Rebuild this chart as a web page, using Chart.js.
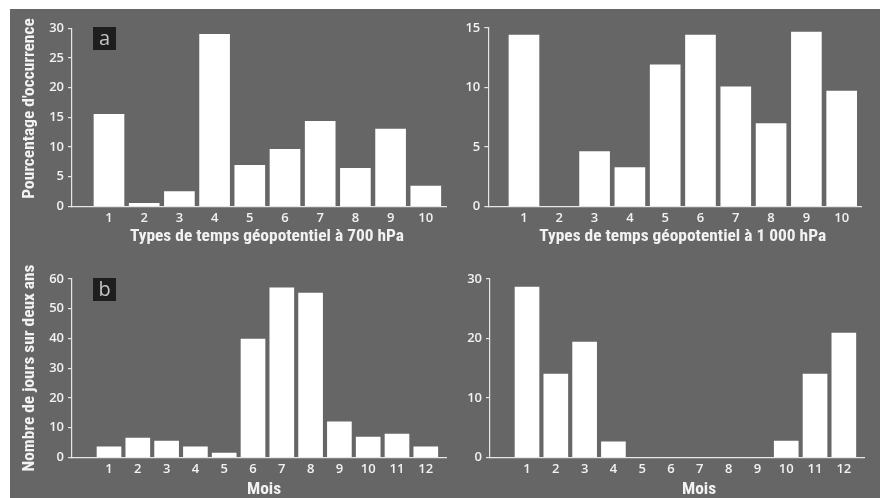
<!DOCTYPE html>
<html><head><meta charset="utf-8">
<script src="https://cdn.jsdelivr.net/npm/chart.js@4"></script>
<style>
html,body{margin:0;padding:0;background:#fff;width:880px;height:498px;overflow:hidden}
#bg{position:absolute;left:10px;top:9px;width:870px;height:489px;background:#666}
canvas{position:absolute;left:0;top:0}
</style></head><body>
<div id="bg"></div>
<canvas id="c1" width="880" height="498"></canvas>
<canvas id="c2" width="880" height="498"></canvas>
<canvas id="c3" width="880" height="498"></canvas>
<canvas id="c4" width="880" height="498"></canvas>
<script>
// ---- data ----
const types = [1, 2, 3, 4, 5, 6, 7, 8, 9, 10];
const pct700 = [15.5, 0.5, 2.5, 29.0, 6.9, 9.6, 14.3, 6.4, 13.0, 3.4];
const pct1000 = [14.4, 0, 4.6, 3.25, 11.9, 14.4, 10.05, 6.95, 14.65, 9.7];
const months = [1, 2, 3, 4, 5, 6, 7, 8, 9, 10, 11, 12];
const days700 = [3.5, 6.5, 5.5, 3.5, 1.45, 39.8, 57.0, 55.3, 11.9, 6.8, 7.85, 3.5];
const days1000 = [28.65, 14.0, 19.4, 2.6, 0, 0, 0, 0, 0, 2.75, 14.0, 20.9];
const yTicksPct700 = [0, 5, 10, 15, 20, 25, 30];
const yTicksPct1000 = [0, 5, 10, 15];
const yTicksDays700 = [0, 10, 20, 30, 40, 50, 60];
const yTicksDays1000 = [0, 10, 20, 30];
const yTitleTop = "Pourcentage d'occurrence";
const yTitleBottom = "Nombre de jours sur deux ans";
const xTitle700 = "Types de temps géopotentiel à 700 hPa";
const xTitle1000 = "Types de temps géopotentiel à 1 000 hPa";
const xTitleMonth = "Mois";

const WHITE = '#f2f2f2';
const AXIS = '#e6e6e6';
const TICKFONT = {family: "'Open Sans', sans-serif", size: 13, weight: '600'};
const TITLEFONT = "bold 17.4px 'Roboto Condensed', 'Open Sans', sans-serif";

const panelText = {
  id: 'panelText',
  afterDraw(chart, args, o) {
    const ctx = chart.ctx;
    ctx.save();
    ctx.fillStyle = WHITE;
    ctx.font = TITLEFONT;
    ctx.textAlign = 'center';
    ctx.textBaseline = 'alphabetic';
    ctx.fillText(o.xTitle, o.xTitlePos[0], o.xTitlePos[1]);
    if (o.yTitle) {
      ctx.save();
      ctx.translate(o.yTitlePos[0], o.yTitlePos[1]);
      ctx.rotate(-Math.PI / 2);
      ctx.fillText(o.yTitle, 0, 0);
      ctx.restore();
    }
    if (o.letter) {
      const b = o.letterBox;
      ctx.fillStyle = '#1e1e1e';
      ctx.fillRect(b[0], b[1], b[2], b[3]);
      ctx.fillStyle = '#c4c4c4';
      ctx.font = "20px 'Open Sans', sans-serif";
      ctx.textBaseline = 'middle';
      ctx.fillText(o.letter, b[0] + b[2] / 2, b[1] + b[3] / 2 + 1);
    }
    ctx.restore();
  }
};

function makeChart(id, labels, values, yTicks, cfg) {
  const a = cfg.area;
  const xH = 20;
  new Chart(document.getElementById(id), {
    type: 'bar',
    data: {
      datasets: [{
        data: labels.map((l, i) => ({x: l, y: values[i]})),
        backgroundColor: '#ffffff',
        borderWidth: 0,
        barThickness: cfg.barW
      }]
    },
    options: {
      responsive: false,
      animation: false,
      events: [],
      layout: {padding: {left: 0, top: a.top, right: 880 - a.right, bottom: 498 - a.bottom - xH}},
      plugins: {legend: {display: false}, tooltip: {enabled: false}, panelText: cfg.text},
      scales: {
        x: {
          type: 'linear', offset: false, min: cfg.xMin, max: cfg.xMax,
          afterBuildTicks: s => { s.ticks = labels.map(v => ({value: v})); },
          afterFit: s => { s.height = xH; },
          grid: {display: false, drawTicks: false},
          border: {display: true, color: AXIS, width: 1.2},
          ticks: {color: WHITE, font: TICKFONT, padding: 4, maxRotation: 0, autoSkip: false}
        },
        y: {
          min: 0, max: cfg.yMax,
          afterBuildTicks: s => { s.ticks = yTicks.map(v => ({value: v})); },
          afterFit: s => { s.width = a.left; },
          grid: {display: true, drawOnChartArea: false, drawTicks: true, tickLength: 4, color: AXIS, lineWidth: 1.2},
          border: {display: true, color: AXIS, width: 1.2},
          ticks: {color: WHITE, font: TICKFONT, padding: 4}
        }
      }
    },
    plugins: [panelText]
  });
}

makeChart('c1', types, pct700, yTicksPct700, {
  area: {left: 72, right: 446, top: 28.3, bottom: 206.3},
  xMin: -0.051, xMax: 10.574, yMax: 30, barW: 30,
  text: {xTitle: xTitle700, xTitlePos: [267, 241], yTitle: yTitleTop, yTitlePos: [34, 108.5], letter: 'a', letterBox: [93, 27, 23, 23]}
});
makeChart('c2', types, pct1000, yTicksPct1000, {
  area: {left: 488.3, right: 861.7, top: 28, bottom: 206.3},
  xMin: -0.011, xMax: 10.567, yMax: 15, barW: 30,
  text: {xTitle: xTitle1000, xTitlePos: [682.7, 241]}
});
makeChart('c3', months, days700, yTicksDays700, {
  area: {left: 72, right: 446.7, top: 279, bottom: 457.3},
  xMin: -0.285, xMax: 12.726, yMax: 60, barW: 24,
  text: {xTitle: xTitleMonth, xTitlePos: [264, 493.5], yTitle: yTitleBottom, yTitlePos: [34, 368], letter: 'b', letterBox: [93, 278, 23, 23]}
});
makeChart('c4', months, days1000, yTicksDays1000, {
  area: {left: 490, right: 864, top: 279, bottom: 457.3},
  xMin: -0.285, xMax: 12.70, yMax: 30, barW: 24,
  text: {xTitle: xTitleMonth, xTitlePos: [699, 493.5]}
});
</script>
</body></html>
